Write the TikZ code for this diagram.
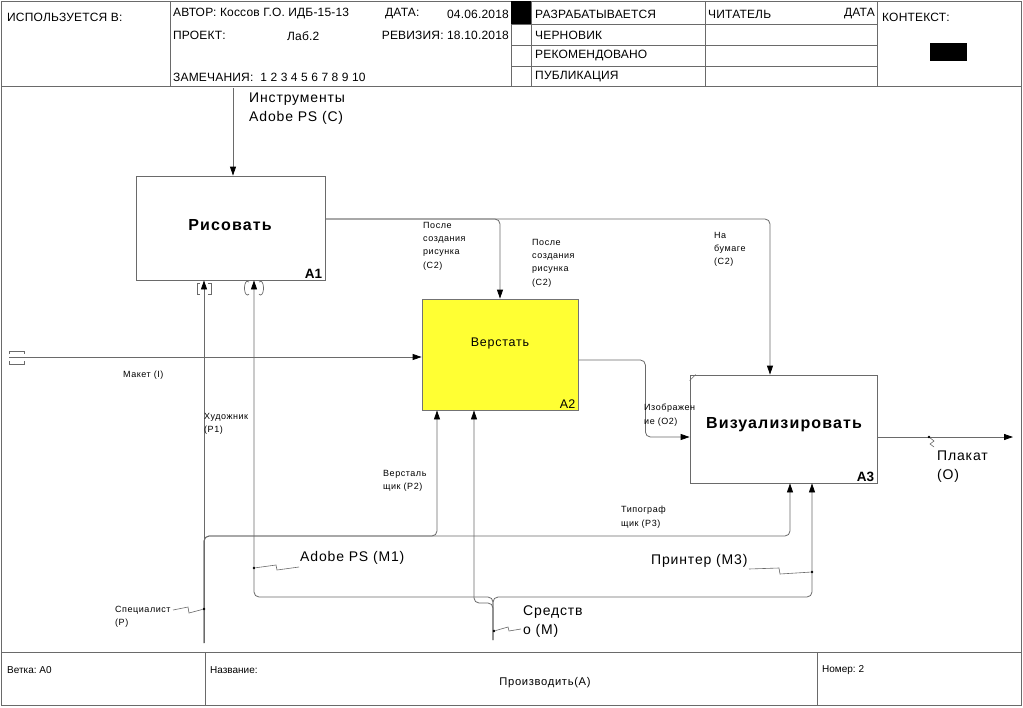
\documentclass[tikz,border=0pt]{standalone}
\usepackage{fontspec}
\setmainfont{Liberation Sans}
\newfontfamily\spfont[LetterSpace=6]{Liberation Sans}
\newfontfamily\bspfont[LetterSpace=7]{Liberation Sans}
\newfontfamily\hdfont[LetterSpace=1.5]{Liberation Sans}
\usetikzlibrary{arrows.meta,calc}
\definecolor{lncol}{HTML}{6A6A6A}
\definecolor{yel}{HTML}{FFFF33}
\begin{document}
\begin{tikzpicture}[x=1pt,y=-1pt,
  ln/.style={draw=lncol, line width=0.8pt},
  arr/.style={ln, rounded corners=5pt, -{Triangle[length=9pt,width=6pt,color=black]}},
  box/.style={draw=lncol, line width=0.8pt, inner sep=0, fill=white},
  hd/.style={inner sep=0, anchor=west, font=\fontsize{12}{13}\hdfont},
  ft/.style={inner sep=0, anchor=west, font=\fontsize{10}{12}\selectfont},
  lbl/.style={inner sep=0, anchor=north west, align=left, font=\fontsize{9}{13.3}\spfont},
  big/.style={inner sep=0, anchor=north west, align=left, font=\fontsize{14}{19}\spfont},
  ttl/.style={inner sep=0, font=\fontsize{16}{18}\bspfont\bfseries},
  num/.style={inner sep=0, anchor=south east, font=\fontsize{13.5}{14}\selectfont\bfseries},
  dotc/.style={fill=black, inner sep=0, minimum size=2.6pt, circle},
  sq/.style={draw=lncol, line width=0.6pt}]
\useasboundingbox (0,0) rectangle (1023,707);
\fill[white] (0,0) rectangle (1023,707);
% ---------- frame ----------
\draw[ln] (1,1) rectangle (1021,705);
\draw[ln] (1,86) -- (1021,86);
\draw[ln] (1,652) -- (1021,652);
\foreach \x in {170,511,531,705,877} \draw[ln] (\x,1) -- (\x,86);
\foreach \y in {24,45,66} \draw[ln] (511,\y) -- (877,\y);
\draw[ln] (205,652) -- (205,705);
\draw[ln] (817,652) -- (817,705);
\fill[black] (511,1) rectangle (531,24);
\fill[black] (930,43) rectangle (967,61);
% header texts
\node[hd] (h1) at (7,17) {ИСПОЛЬЗУЕТСЯ В:};
\node[hd] (h2) at (173,14) {АВТОР: Коссов Г.О. ИДБ-15-13};
\node[hd] (h3) at (385,14) {ДАТА:};
\node[hd, anchor=east] (h4) at (509,14) {04.06.2018};
\node[hd] (h5) at (173,35) {ПРОЕКТ:};
\node[hd] (h6) at (287,36) {Лаб.2};
\node[hd, anchor=east] (h7) at (509,35) {РЕВИЗИЯ: 18.10.2018};
\node[hd] (h8) at (173,77) {ЗАМЕЧАНИЯ:\ \ 1 2 3 4 5 6 7 8 9 10};
\node[hd] (s1) at (535,14) {РАЗРАБАТЫВАЕТСЯ};
\node[hd] (s2) at (535,35) {ЧЕРНОВИК};
\node[hd] (s3) at (535,56) {РЕКОМЕНДОВАНО};
\node[hd] (s4) at (535,77) {ПУБЛИКАЦИЯ};
\node[hd] (r1) at (708,14) {ЧИТАТЕЛЬ};
\node[hd, anchor=east] (r2) at (875,14) {ДАТА};
\node[hd] (k1) at (882,17) {КОНТЕКСТ:};
% footer texts
\node[ft] (f1) at (7,670) {Ветка:\ А0};
\node[ft] (f2) at (210,670) {Название:};
\node[inner sep=0, font=\fontsize{11.2}{12}\spfont] (f3) at (545,683) {Производить(А)};
\node[ft] (f4) at (822,670) {Номер:\ 2};
% ---------- boxes ----------
\node[box, minimum width=189pt, minimum height=104pt] (A1) at (230.5,228) {};
\node[box, fill=yel, draw=black!55, minimum width=156pt, minimum height=111pt] (A2) at (500,354.5) {};
\node[box, minimum width=187pt, minimum height=108pt] (A3) at (783.5,429) {};
\node[ttl] (A1t) at (230,225) {Рисовать};
\node[inner sep=0, font=\fontsize{12.5}{14}\spfont] (A2t) at (500,343) {Верстать};
\node[ttl] (A3t) at (784,425) {Визуализировать};
\node[num] (A1n) at ([xshift=-3pt,yshift=2pt]A1.south east) {A1};
\node[inner sep=0, anchor=south east, font=\fontsize{12.5}{14}\selectfont] (A2n) at ([xshift=-3pt,yshift=2pt]A2.south east) {A2};
\node[num] (A3n) at ([xshift=-3pt,yshift=2pt]A3.south east) {A3};
\draw[ln, line width=0.6pt] (A3.north west) ++(0,6) -- ++(6,-6);
% ---------- anchor points ----------
\coordinate (a1c) at ([xshift=2.5pt]A1.north);
\coordinate (a1p) at ([xshift=-26.5pt]A1.south);
\coordinate (a1m) at ([xshift=23.5pt]A1.south);
\coordinate (a2p) at ([xshift=-63pt]A2.south);
\coordinate (a2m) at ([xshift=-26pt]A2.south);
\coordinate (a3c) at ([xshift=-13.5pt]A3.north);
\coordinate (a3p) at ([xshift=6.5pt]A3.south);
\coordinate (a3m) at ([xshift=28.5pt]A3.south);
\coordinate (cIn) at (233,88);
\coordinate (iIn) at (9,357);
\coordinate (oOut) at (1013,437);
\coordinate (pBot) at (204,643);
\coordinate (mBot) at (493,640);
\coordinate (busP) at (0,536);
\coordinate (busM) at (0,597);
\coordinate (busM2) at (0,603);
% ---------- connectors ----------
\draw[arr] (cIn) -- (a1c);
\draw[arr] ([yshift=9pt]A1.east) -| (A2.north);
\draw[arr] ([yshift=9pt]A1.east) -| (a3c);
\draw[arr] (iIn) -- (iIn -| A2.west);
\draw[arr] ([yshift=-5.5pt]A2.east) -- ++(67,0) |- ([yshift=-8pt]A3.west);
\draw[arr] ([yshift=-8pt]A3.east) -- (oOut);
\draw[arr] (pBot) -- (a1p);
\draw[arr] (pBot) |- (a2p |- busP) -- (a2p);
\draw[arr] (pBot) |- (a3p |- busP) -- (a3p);
\draw[arr] (mBot) |- (a1m |- busM) -- (a1m);
\draw[arr] (mBot) |- (a3m |- busM) -- (a3m);
\draw[arr] (mBot) |- (a2m |- busM2) -- (a2m);
% tunnels
\draw[ln, line width=0.7pt] (200,283) -- (197,283) -- (197,294) -- (200,294);
\draw[ln, line width=0.7pt] (208,283) -- (211,283) -- (211,294) -- (208,294);
\draw[ln, line width=0.7pt] (249,282) arc[start angle=60, end angle=300, x radius=3, y radius=-7];
\draw[ln, line width=0.7pt] (259,282) arc[start angle=120, end angle=-120, x radius=3, y radius=-7];
\draw[ln, line width=0.7pt] (9,354) -- (9,351) -- (24,351) -- (24,354);
\draw[ln, line width=0.7pt] (9,361) -- (9,364) -- (24,364) -- (24,361);
% ---------- labels ----------
\node[big] (Lc) at (249,93) {Инструменты\\Adobe PS (C)};
\node[lbl] (L1) at (423,222) {После\\создания\\рисунка\\(С2)};
\node[lbl] (L2) at (532,239) {После\\создания\\рисунка\\(С2)};
\node[lbl] (L3) at (714,232) {На\\бумаге\\(С2)};
\node[lbl, anchor=west] (Li) at (123,375) {Макет (I)};
\node[lbl] (Lp1) at (204,413) {Художник\\(P1)};
\node[lbl] (Lo2) at (644,404) {Изображен\\ие (О2)};
\node[lbl] (Lp2) at (383,470) {Версталь\\щик (P2)};
\node[lbl] (Lp3) at (621,506) {Типограф\\щик (P3)};
\node[lbl] (Lp) at (115,606) {Специалист\\(Р)};
\node[big] (Lo) at (937,451) {Плакат\\(О)};
\node[big, anchor=west] (Lm1) at (300,558) {Adobe PS (M1)};
\node[big, anchor=west] (Lm3) at (651,561) {Принтер (М3)};
\node[big] (Lm) at (523,606) {Средств\\о (М)};
% squiggles and dots
\node[dotc] (dp) at (204,609) {};
\draw[sq] (173,610) -- (188,607) -- (189,613) -- (dp);
\node[dotc] (dm1) at (254,568) {};
\draw[sq] (dm1) -- (276,565) -- (277,570) -- (299,567);
\node[dotc] (dm3) at (812,572) {};
\draw[sq] (749,569) -- (779,568) -- (780,574) -- (dm3);
\node[dotc] (dm) at (494,631) {};
\draw[sq] (dm) -- (508,627) -- (509,631) -- (521,629);
\node[dotc] (dO) at (929,437) {};
\draw[sq] (dO) -- (934,441) -- (930,444) -- (934,447);
\end{tikzpicture}
\end{document}
